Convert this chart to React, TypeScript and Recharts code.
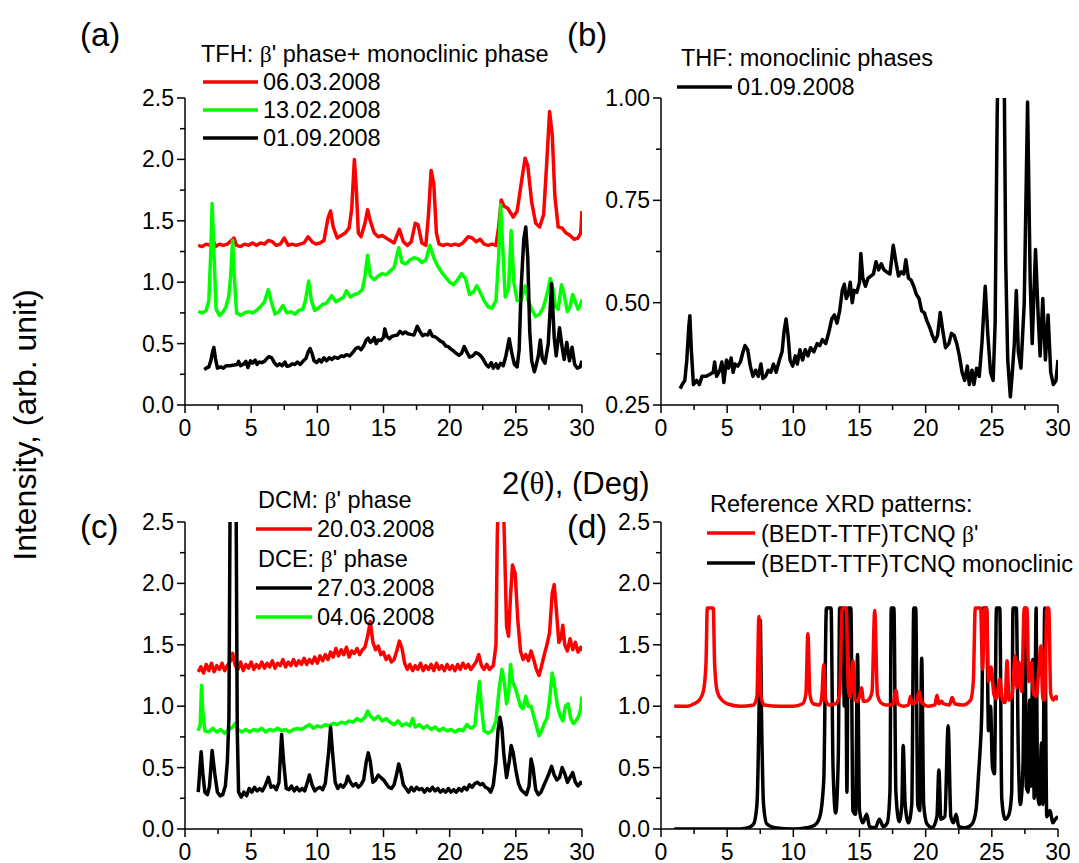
import React from "react";
import { Line, LineChart, XAxis, YAxis } from "recharts";

const FONT = "'Liberation Sans', Arial, sans-serif";
const SERIF = "'Liberation Serif', 'DejaVu Serif', serif";

type Pt = [number, number];

// (a) TFH samples, (b) the same 01.09.2008 pattern on its own scale
const tfhMar06: Pt[] = [
  [1.0, 1.30], [1.3, 1.29], [1.6, 1.31], [1.9, 1.30], [2.1, 1.35], [2.3, 1.29], [2.6, 1.31], [2.9, 1.30],
  [3.2, 1.31], [3.5, 1.34], [3.7, 1.36], [3.9, 1.30], [4.2, 1.29], [4.5, 1.31], [4.8, 1.30], [5.1, 1.32],
  [5.4, 1.30], [5.7, 1.32], [6.0, 1.31], [6.3, 1.34], [6.6, 1.33], [6.9, 1.30], [7.2, 1.31], [7.5, 1.36],
  [7.8, 1.30], [8.1, 1.31], [8.4, 1.30], [8.7, 1.31], [9.0, 1.32], [9.3, 1.37], [9.6, 1.33], [9.9, 1.31],
  [10.2, 1.32], [10.5, 1.34], [10.8, 1.52], [11.0, 1.58], [11.2, 1.45], [11.5, 1.36], [11.8, 1.38], [12.1, 1.40],
  [12.4, 1.44], [12.6, 1.60], [12.8, 2.0], [12.95, 1.75], [13.1, 1.40], [13.3, 1.37], [13.6, 1.48], [13.8, 1.59],
  [14.0, 1.50], [14.3, 1.40], [14.6, 1.37], [14.9, 1.38], [15.2, 1.36], [15.5, 1.34], [15.8, 1.32], [16.2, 1.43],
  [16.5, 1.33], [16.8, 1.30], [17.1, 1.33], [17.4, 1.48], [17.6, 1.47], [17.9, 1.32], [18.2, 1.30], [18.4, 1.55],
  [18.6, 1.91], [18.8, 1.80], [19.0, 1.40], [19.2, 1.31], [19.5, 1.30], [19.8, 1.31], [20.1, 1.30], [20.4, 1.31],
  [20.7, 1.30], [21.0, 1.32], [21.4, 1.37], [21.7, 1.36], [22.0, 1.33], [22.3, 1.35], [22.6, 1.31], [22.9, 1.30],
  [23.2, 1.31], [23.5, 1.30], [23.7, 1.45], [23.9, 1.67], [24.1, 1.62], [24.4, 1.60], [24.8, 1.53], [25.1, 1.58],
  [25.4, 1.80], [25.7, 2.01], [25.9, 1.95], [26.2, 1.65], [26.5, 1.48], [26.8, 1.45], [27.1, 1.55], [27.35, 2.0],
  [27.55, 2.39], [27.75, 2.2], [27.95, 1.7], [28.2, 1.45], [28.5, 1.44], [28.8, 1.40], [29.1, 1.38], [29.4, 1.35],
  [29.7, 1.36], [29.9, 1.40], [30.0, 1.58],
];

const tfhFeb13: Pt[] = [
  [1.0, 0.76], [1.3, 0.75], [1.6, 0.77], [1.8, 0.85], [1.95, 1.25], [2.05, 1.64], [2.2, 1.2], [2.35, 0.78],
  [2.6, 0.73], [2.9, 0.76], [3.1, 0.80], [3.3, 0.88], [3.45, 1.05], [3.6, 1.34], [3.75, 1.0], [3.9, 0.75],
  [4.2, 0.73], [4.5, 0.75], [4.8, 0.76], [5.1, 0.75], [5.4, 0.77], [5.7, 0.80], [6.0, 0.84], [6.3, 0.94],
  [6.5, 0.85], [6.8, 0.74], [7.1, 0.76], [7.4, 0.81], [7.7, 0.75], [8.0, 0.76], [8.3, 0.74], [8.6, 0.77],
  [8.9, 0.78], [9.1, 0.85], [9.35, 1.01], [9.55, 0.85], [9.8, 0.77], [10.1, 0.79], [10.4, 0.82], [10.7, 0.83],
  [11.1, 0.89], [11.4, 0.84], [11.7, 0.86], [12.0, 0.88], [12.2, 0.93], [12.5, 0.88], [12.8, 0.90], [13.1, 0.91],
  [13.4, 0.94], [13.6, 1.05], [13.8, 1.22], [14.0, 1.05], [14.3, 1.02], [14.6, 1.05], [14.9, 1.07], [15.2, 1.06],
  [15.5, 1.09], [15.8, 1.12], [16.15, 1.28], [16.4, 1.16], [16.7, 1.15], [17.0, 1.18], [17.3, 1.20], [17.6, 1.19],
  [17.9, 1.16], [18.2, 1.18], [18.5, 1.30], [18.8, 1.20], [19.1, 1.13], [19.4, 1.08], [19.7, 1.04], [20.0, 1.00],
  [20.3, 0.98], [20.6, 1.02], [20.9, 1.07], [21.2, 1.03], [21.5, 0.90], [21.8, 0.92], [22.05, 0.97], [22.3, 0.92],
  [22.6, 0.85], [22.9, 0.80], [23.2, 0.79], [23.5, 0.85], [23.7, 1.2], [23.85, 1.63], [24.0, 1.3], [24.2, 0.88],
  [24.45, 0.95], [24.65, 1.42], [24.85, 1.0], [25.1, 0.85], [25.4, 0.85], [25.7, 0.97], [25.95, 0.85], [26.2, 0.78],
  [26.5, 0.72], [26.8, 0.74], [27.1, 0.80], [27.4, 0.92], [27.6, 1.03], [27.8, 0.95], [28.0, 0.80], [28.2, 0.78],
  [28.45, 0.98], [28.65, 0.90], [28.9, 0.76], [29.1, 0.80], [29.3, 0.90], [29.5, 0.84], [29.7, 0.78], [29.9, 0.82],
  [30.0, 0.86],
];

const thfSep01: Pt[] = [
  [1.45, 0.29], [1.6, 0.30], [1.8, 0.31], [1.95, 0.36], [2.1, 0.44], [2.18, 0.468], [2.3, 0.38], [2.45, 0.30],
  [2.7, 0.31], [2.9, 0.30], [3.1, 0.32], [3.4, 0.32], [3.7, 0.325], [3.95, 0.33], [4.05, 0.355], [4.2, 0.32],
  [4.45, 0.335], [4.6, 0.355], [4.75, 0.305], [4.95, 0.36], [5.1, 0.34], [5.3, 0.365], [5.45, 0.33], [5.6, 0.35],
  [5.8, 0.345], [6.0, 0.355], [6.2, 0.38], [6.35, 0.395], [6.55, 0.385], [6.75, 0.345], [6.95, 0.32], [7.15, 0.335],
  [7.35, 0.32], [7.55, 0.35], [7.7, 0.315], [7.9, 0.32], [8.1, 0.335], [8.3, 0.33], [8.5, 0.35], [8.7, 0.33],
  [8.95, 0.36], [9.15, 0.38], [9.3, 0.43], [9.45, 0.46], [9.6, 0.42], [9.75, 0.36], [9.95, 0.345], [10.15, 0.37],
  [10.3, 0.35], [10.5, 0.385], [10.7, 0.36], [10.9, 0.385], [11.1, 0.37], [11.3, 0.39], [11.55, 0.38], [11.8, 0.40],
  [12.0, 0.395], [12.2, 0.41], [12.45, 0.40], [12.7, 0.43], [12.9, 0.46], [13.1, 0.47], [13.3, 0.45], [13.5, 0.48],
  [13.7, 0.53], [13.85, 0.545], [14.0, 0.51], [14.15, 0.52], [14.3, 0.55], [14.45, 0.50], [14.6, 0.53], [14.8, 0.525],
  [15.0, 0.55], [15.1, 0.62], [15.25, 0.56], [15.45, 0.54], [15.65, 0.56], [15.85, 0.565], [16.05, 0.57], [16.25, 0.60],
  [16.45, 0.58], [16.65, 0.595], [16.85, 0.58], [17.05, 0.575], [17.3, 0.57], [17.55, 0.64], [17.75, 0.60], [17.95, 0.565],
  [18.15, 0.575], [18.35, 0.57], [18.5, 0.605], [18.7, 0.56], [18.9, 0.555], [19.1, 0.54], [19.3, 0.52], [19.5, 0.51],
  [19.7, 0.48], [19.9, 0.475], [20.1, 0.455], [20.3, 0.44], [20.5, 0.42], [20.7, 0.405], [20.9, 0.42], [21.1, 0.476],
  [21.3, 0.43], [21.5, 0.39], [21.75, 0.40], [21.95, 0.425], [22.15, 0.42], [22.35, 0.40], [22.55, 0.37], [22.75, 0.33],
  [22.95, 0.31], [23.15, 0.345], [23.3, 0.30], [23.5, 0.335], [23.65, 0.30], [23.85, 0.34], [24.05, 0.32], [24.25, 0.40],
  [24.5, 0.54], [24.7, 0.42], [24.9, 0.33], [25.1, 0.31], [25.25, 0.45], [25.4, 0.95], [25.6, 1.35], [25.75, 1.45],
  [25.9, 1.2], [26.05, 0.6], [26.2, 0.36], [26.4, 0.27], [26.55, 0.33], [26.7, 0.40], [26.85, 0.53], [27.0, 0.38],
  [27.2, 0.34], [27.45, 0.50], [27.7, 0.99], [27.9, 0.55], [28.05, 0.40], [28.3, 0.63], [28.5, 0.47], [28.65, 0.37],
  [28.85, 0.51], [29.05, 0.36], [29.25, 0.47], [29.45, 0.33], [29.65, 0.30], [29.85, 0.31], [30.0, 0.36],
];

// (c) DCM and DCE samples
const dcmMar20: Pt[] = [
  [1.0, 1.28], [1.2, 1.32], [1.4, 1.27], [1.6, 1.34], [1.8, 1.29], [2.0, 1.35], [2.2, 1.28], [2.4, 1.33],
  [2.6, 1.30], [2.8, 1.35], [3.0, 1.29], [3.2, 1.33], [3.45, 1.37], [3.6, 1.43], [3.8, 1.33], [4.0, 1.30],
  [4.2, 1.36], [4.4, 1.29], [4.6, 1.34], [4.8, 1.31], [5.0, 1.36], [5.2, 1.30], [5.4, 1.34], [5.6, 1.31],
  [5.8, 1.36], [6.0, 1.31], [6.2, 1.35], [6.4, 1.32], [6.6, 1.37], [6.8, 1.31], [7.0, 1.35], [7.2, 1.33],
  [7.4, 1.38], [7.6, 1.32], [7.8, 1.36], [8.0, 1.33], [8.2, 1.38], [8.4, 1.33], [8.6, 1.37], [8.8, 1.34],
  [9.0, 1.39], [9.2, 1.34], [9.4, 1.38], [9.6, 1.35], [9.8, 1.40], [10.0, 1.35], [10.2, 1.41], [10.4, 1.37],
  [10.6, 1.42], [10.8, 1.38], [11.0, 1.44], [11.2, 1.40], [11.4, 1.47], [11.6, 1.41], [11.8, 1.46], [12.0, 1.42],
  [12.2, 1.48], [12.4, 1.40], [12.6, 1.45], [12.8, 1.43], [13.0, 1.47], [13.2, 1.42], [13.4, 1.46], [13.6, 1.48],
  [13.8, 1.57], [14.0, 1.69], [14.2, 1.52], [14.4, 1.46], [14.6, 1.49], [14.8, 1.42], [15.0, 1.44], [15.2, 1.38],
  [15.4, 1.41], [15.6, 1.36], [15.8, 1.38], [16.0, 1.45], [16.2, 1.53], [16.4, 1.47], [16.6, 1.35], [16.8, 1.30],
  [17.0, 1.34], [17.2, 1.29], [17.4, 1.33], [17.6, 1.30], [17.8, 1.35], [18.0, 1.29], [18.2, 1.33], [18.4, 1.30],
  [18.6, 1.34], [18.8, 1.29], [19.0, 1.35], [19.2, 1.30], [19.4, 1.33], [19.6, 1.29], [19.8, 1.34], [20.0, 1.30],
  [20.2, 1.33], [20.4, 1.29], [20.6, 1.34], [20.8, 1.30], [21.0, 1.35], [21.2, 1.31], [21.4, 1.34], [21.6, 1.30],
  [21.8, 1.33], [22.0, 1.36], [22.2, 1.42], [22.4, 1.33], [22.6, 1.30], [22.8, 1.34], [23.0, 1.30], [23.3, 1.33],
  [23.5, 1.50], [23.6, 2.4], [23.75, 2.9], [24.0, 2.9], [24.15, 2.3], [24.3, 1.65], [24.45, 1.57], [24.6, 1.9],
  [24.75, 2.15], [24.95, 2.08], [25.15, 1.70], [25.35, 1.45], [25.55, 1.38], [25.75, 1.42], [25.95, 1.37], [26.15, 1.45],
  [26.35, 1.38], [26.55, 1.30], [26.75, 1.25], [26.95, 1.33], [27.15, 1.42], [27.35, 1.50], [27.55, 1.60], [27.75, 1.92],
  [27.9, 1.99], [28.05, 1.80], [28.25, 1.52], [28.4, 1.55], [28.55, 1.66], [28.7, 1.50], [28.9, 1.45], [29.1, 1.55],
  [29.3, 1.46], [29.5, 1.52], [29.7, 1.44], [29.9, 1.48], [30.0, 1.45],
];

const dceJun04: Pt[] = [
  [1.0, 0.80], [1.15, 0.85], [1.25, 1.17], [1.35, 0.95], [1.5, 0.80], [1.8, 0.79], [2.1, 0.82], [2.4, 0.79],
  [2.7, 0.81], [3.0, 0.78], [3.3, 0.81], [3.6, 0.83], [3.8, 0.86], [4.0, 0.81], [4.3, 0.79], [4.6, 0.81],
  [4.9, 0.79], [5.2, 0.81], [5.5, 0.80], [5.8, 0.82], [6.1, 0.79], [6.4, 0.81], [6.7, 0.80], [7.0, 0.82],
  [7.3, 0.80], [7.6, 0.81], [7.9, 0.79], [8.2, 0.81], [8.5, 0.82], [8.8, 0.81], [9.1, 0.83], [9.4, 0.85],
  [9.7, 0.82], [10.0, 0.84], [10.3, 0.83], [10.6, 0.85], [10.9, 0.84], [11.2, 0.86], [11.5, 0.85], [11.8, 0.87],
  [12.1, 0.86], [12.4, 0.88], [12.7, 0.87], [13.0, 0.90], [13.3, 0.88], [13.6, 0.91], [13.8, 0.96], [14.0, 0.92],
  [14.3, 0.89], [14.6, 0.92], [14.9, 0.88], [15.2, 0.90], [15.5, 0.87], [15.8, 0.85], [16.1, 0.88], [16.4, 0.84],
  [16.7, 0.86], [17.0, 0.84], [17.2, 0.90], [17.4, 0.83], [17.7, 0.85], [18.0, 0.82], [18.3, 0.84], [18.6, 0.81],
  [18.9, 0.83], [19.2, 0.80], [19.5, 0.82], [19.8, 0.80], [20.1, 0.81], [20.4, 0.79], [20.7, 0.81], [21.0, 0.80],
  [21.3, 0.85], [21.6, 0.82], [21.9, 0.84], [22.1, 1.05], [22.25, 1.20], [22.4, 1.0], [22.6, 0.80], [22.9, 0.78],
  [23.2, 0.80], [23.5, 0.88], [23.75, 1.15], [23.95, 1.30], [24.15, 1.18], [24.3, 1.02], [24.45, 1.10], [24.6, 1.34],
  [24.75, 1.20], [24.95, 1.15], [25.15, 1.08], [25.35, 1.00], [25.55, 0.98], [25.75, 1.08], [25.95, 1.00], [26.15, 1.00],
  [26.35, 0.92], [26.55, 0.84], [26.75, 0.76], [26.95, 0.80], [27.15, 0.86], [27.35, 0.90], [27.55, 1.05], [27.75, 1.27],
  [27.95, 1.15], [28.15, 1.00], [28.35, 0.92], [28.55, 0.88], [28.75, 1.00], [28.95, 1.02], [29.15, 0.90], [29.35, 0.86],
  [29.55, 0.88], [29.75, 0.92], [29.9, 0.98], [30.0, 1.08],
];

const dceMar27: Pt[] = [
  [1.0, 0.30], [1.1, 0.45], [1.22, 0.63], [1.35, 0.45], [1.5, 0.30], [1.7, 0.28], [1.85, 0.35], [2.05, 0.64],
  [2.25, 0.45], [2.45, 0.30], [2.65, 0.27], [2.85, 0.28], [3.05, 0.35], [3.2, 0.55], [3.32, 0.9], [3.42, 2.9],
  [3.6, 3.4], [3.85, 2.9], [3.95, 0.8], [4.05, 0.30], [4.25, 0.26], [4.45, 0.30], [4.65, 0.27], [4.85, 0.33],
  [5.05, 0.30], [5.25, 0.34], [5.45, 0.31], [5.65, 0.33], [5.85, 0.31], [6.05, 0.35], [6.3, 0.42], [6.5, 0.34],
  [6.7, 0.35], [6.9, 0.32], [7.1, 0.38], [7.3, 0.77], [7.45, 0.55], [7.65, 0.33], [7.85, 0.32], [8.05, 0.35],
  [8.25, 0.31], [8.45, 0.34], [8.65, 0.31], [8.85, 0.33], [9.05, 0.31], [9.25, 0.38], [9.4, 0.44], [9.6, 0.36],
  [9.8, 0.31], [10.0, 0.33], [10.2, 0.34], [10.4, 0.32], [10.6, 0.37], [10.85, 0.62], [11.0, 0.83], [11.15, 0.62],
  [11.35, 0.38], [11.55, 0.33], [11.75, 0.36], [11.95, 0.34], [12.15, 0.37], [12.3, 0.43], [12.5, 0.38], [12.7, 0.35],
  [12.9, 0.37], [13.1, 0.34], [13.3, 0.36], [13.5, 0.40], [13.7, 0.55], [13.85, 0.62], [14.0, 0.55], [14.2, 0.38],
  [14.4, 0.40], [14.6, 0.44], [14.8, 0.42], [15.0, 0.40], [15.2, 0.37], [15.4, 0.34], [15.6, 0.33], [15.8, 0.36],
  [16.0, 0.45], [16.15, 0.53], [16.3, 0.47], [16.5, 0.36], [16.7, 0.33], [16.9, 0.30], [17.1, 0.34], [17.3, 0.31],
  [17.5, 0.34], [17.7, 0.32], [17.9, 0.33], [18.1, 0.30], [18.3, 0.33], [18.5, 0.31], [18.7, 0.34], [18.9, 0.31],
  [19.1, 0.33], [19.3, 0.30], [19.5, 0.32], [19.7, 0.30], [19.9, 0.33], [20.1, 0.30], [20.3, 0.32], [20.5, 0.30],
  [20.7, 0.33], [20.9, 0.31], [21.1, 0.34], [21.3, 0.32], [21.5, 0.36], [21.7, 0.34], [21.9, 0.37], [22.1, 0.38],
  [22.3, 0.36], [22.5, 0.37], [22.7, 0.34], [22.9, 0.33], [23.1, 0.30], [23.3, 0.36], [23.5, 0.55], [23.65, 0.80],
  [23.8, 0.91], [23.95, 0.82], [24.1, 0.60], [24.3, 0.42], [24.5, 0.55], [24.65, 0.68], [24.8, 0.62], [25.0, 0.48],
  [25.2, 0.37], [25.4, 0.32], [25.6, 0.30], [25.8, 0.28], [26.0, 0.35], [26.15, 0.57], [26.3, 0.50], [26.5, 0.32],
  [26.7, 0.28], [26.9, 0.30], [27.1, 0.35], [27.3, 0.40], [27.5, 0.45], [27.7, 0.51], [27.9, 0.44], [28.1, 0.40],
  [28.3, 0.42], [28.5, 0.50], [28.7, 0.45], [28.9, 0.38], [29.1, 0.42], [29.3, 0.46], [29.5, 0.38], [29.7, 0.35],
  [29.9, 0.38], [30.0, 0.36],
];

// (d) reference patterns, capped at 1.8 as in the source data
const refBeta: Pt[] = [
  [1.0, 1.0], [2.0, 1.0], [2.5, 1.02], [2.9, 1.05], [3.2, 1.12], [3.4, 1.35], [3.5, 1.8], [3.95, 1.8],
  [4.05, 1.35], [4.25, 1.12], [4.6, 1.05], [5.0, 1.02], [6.0, 1.0], [7.0, 1.01], [7.25, 1.08], [7.4, 1.73],
  [7.55, 1.08], [7.8, 1.01], [9.0, 1.0], [10.0, 1.0], [10.7, 1.02], [10.95, 1.1], [11.1, 1.59], [11.25, 1.1],
  [11.5, 1.02], [12.0, 1.01], [12.15, 1.08], [12.3, 1.34], [12.45, 1.05], [12.7, 1.01], [13.2, 1.02], [13.5, 1.1],
  [13.7, 1.8], [14.0, 1.8], [14.15, 1.15], [14.3, 1.07], [14.5, 1.37], [14.65, 1.05], [14.85, 1.04], [15.0, 1.08],
  [15.15, 1.15], [15.3, 1.04], [15.5, 1.04], [15.75, 1.06], [15.95, 1.12], [16.15, 1.78], [16.35, 1.1], [16.6, 1.03],
  [17.0, 1.01], [17.5, 1.01], [17.6, 1.05], [17.75, 1.13], [17.9, 1.02], [18.3, 1.0], [18.7, 1.01], [18.85, 1.08],
  [19.0, 1.02], [19.3, 1.03], [19.5, 1.12], [19.7, 1.03], [20.2, 1.0], [20.7, 1.01], [20.85, 1.09], [21.0, 1.02],
  [21.2, 1.04], [21.35, 1.02], [21.8, 1.01], [22.0, 1.07], [22.2, 1.02], [22.8, 1.01], [23.4, 1.05], [23.6, 1.2],
  [23.75, 1.8], [24.15, 1.8], [24.3, 1.3], [24.45, 1.8], [24.6, 1.8], [24.75, 1.2], [24.95, 1.32], [25.15, 1.1],
  [25.35, 1.06], [25.6, 1.22], [25.8, 1.05], [26.0, 1.03], [26.15, 1.37], [26.3, 1.05], [26.55, 1.1], [26.75, 1.41],
  [26.9, 1.15], [27.05, 1.36], [27.25, 1.12], [27.45, 1.8], [27.65, 1.8], [27.8, 1.2], [28.0, 1.36], [28.15, 1.1],
  [28.35, 1.08], [28.55, 1.3], [28.7, 1.49], [28.85, 1.06], [29.0, 1.05], [29.15, 1.8], [29.3, 1.8], [29.45, 1.1],
  [29.65, 1.05], [29.85, 1.08], [30.0, 1.05],
];

const refMono: Pt[] = [
  [1.0, 0.0], [6.0, 0.0], [6.6, 0.01], [7.0, 0.04], [7.25, 0.2], [7.4, 0.9], [7.5, 1.7], [7.6, 0.9],
  [7.75, 0.2], [8.0, 0.04], [8.6, 0.01], [10.0, 0.0], [11.0, 0.01], [11.6, 0.03], [12.0, 0.1], [12.3, 0.4],
  [12.5, 1.8], [12.85, 1.8], [13.0, 0.5], [13.2, 0.13], [13.4, 0.6], [13.5, 1.8], [13.75, 1.8], [13.85, 1.0],
  [13.95, 1.8], [14.05, 0.3], [14.15, 1.8], [14.35, 1.8], [14.5, 0.15], [14.7, 0.12], [14.85, 1.42], [15.0, 0.15],
  [15.25, 0.05], [15.55, 0.12], [15.75, 0.02], [16.2, 0.01], [16.5, 0.08], [16.8, 0.02], [17.1, 0.05], [17.3, 0.3],
  [17.4, 1.8], [17.6, 1.8], [17.75, 0.3], [18.0, 0.06], [18.2, 0.2], [18.3, 0.68], [18.45, 0.2], [18.7, 0.05],
  [18.95, 0.2], [19.1, 1.8], [19.25, 1.8], [19.4, 0.2], [19.55, 0.15], [19.7, 1.39], [19.85, 0.2], [20.1, 0.04],
  [20.5, 0.01], [20.85, 0.1], [21.0, 0.48], [21.15, 0.08], [21.45, 0.1], [21.7, 0.84], [21.9, 0.1], [22.1, 0.05],
  [22.3, 0.12], [22.5, 0.02], [23.0, 0.01], [23.5, 0.04], [23.8, 0.15], [24.0, 0.45], [24.1, 0.62], [24.25, 1.0],
  [24.35, 1.8], [24.6, 1.8], [24.75, 0.8], [24.9, 1.0], [25.05, 0.5], [25.2, 0.45], [25.35, 1.8], [25.6, 1.8],
  [25.75, 0.25], [26.0, 0.08], [26.3, 0.12], [26.5, 0.3], [26.6, 1.8], [26.85, 1.8], [27.0, 0.63], [27.15, 0.2],
  [27.35, 0.5], [27.5, 1.8], [27.6, 0.35], [27.75, 0.3], [27.85, 1.05], [27.95, 0.35], [28.1, 1.38], [28.2, 0.25],
  [28.35, 1.8], [28.45, 0.3], [28.6, 0.2], [28.75, 0.7], [28.85, 0.2], [29.0, 1.8], [29.15, 0.1], [29.4, 0.15],
  [29.6, 0.05], [29.8, 0.08], [30.0, 0.1],
];

const xTicks = [0, 2.5, 5, 7.5, 10, 12.5, 15, 17.5, 20, 22.5, 25, 27.5, 30];
const yTicksWide = [0, 0.25, 0.5, 0.75, 1, 1.25, 1.5, 1.75, 2, 2.25, 2.5];
const yTicksNarrow = [0.25, 0.375, 0.5, 0.625, 0.75, 0.875, 1];

const RED = "#ff0000";
const GREEN = "#00ff00";
const BLACK = "#000000";

// chart box: y-axis strip, plot, x-axis strip
const YW = 85;
const MT = 18;
const MR = 12;
const PW = 397;
const PH = 307;
const XH = 50;

const rows = (pts: Pt[]) => pts.map(([x, y]) => ({ x, y }));

const isMultiple = (v: number, step: number) => Math.abs(v / step - Math.round(v / step)) < 1e-6;

function XTick(props: any) {
  const { x, y, payload } = props;
  const major = isMultiple(payload.value, 5);
  return (
    <g>
      <line x1={x} y1={y} x2={x} y2={y + (major ? 8 : 5)} stroke="#000" strokeWidth={1.5} />
      {major && (
        <text x={x} y={y + 31} textAnchor="middle" fontSize={23} fontFamily={FONT} fill="#000">
          {payload.value}
        </text>
      )}
    </g>
  );
}

function makeYTick(step: number, digits: number) {
  return function YTick(props: any) {
    const { x, y, payload } = props;
    const major = isMultiple(payload.value, step);
    return (
      <g>
        <line x1={x - (major ? 8 : 5)} y1={y} x2={x} y2={y} stroke="#000" strokeWidth={1.5} />
        {major && (
          <text x={x - 11} y={y + 8} textAnchor="end" fontSize={23} fontFamily={FONT} fill="#000">
            {payload.value.toFixed(digits)}
          </text>
        )}
      </g>
    );
  };
}

const tickWide = makeYTick(0.5, 1);
const tickNarrow = makeYTick(0.25, 2);

type Series = { name: string; points: Pt[]; color: string; curve?: "linear" | "monotoneX" };

function Panel({
  left,
  top,
  domain,
  ticks,
  tick,
  series,
}: {
  left: number;
  top: number;
  domain: [number, number];
  ticks: number[];
  tick: (p: any) => React.ReactElement;
  series: Series[];
}) {
  return (
    <div style={{ position: "absolute", left: left - YW, top: top - MT }}>
      <LineChart width={YW + PW + MR} height={MT + PH + XH} margin={{ top: MT, right: MR, bottom: 0, left: 0 }}>
        <XAxis
          type="number"
          dataKey="x"
          domain={[0, 30]}
          ticks={xTicks}
          interval={0}
          allowDataOverflow
          height={XH}
          tickSize={0}
          tickMargin={0}
          tickLine={false}
          tick={XTick}
          axisLine={{ stroke: "#000", strokeWidth: 1.5 }}
        />
        <YAxis
          type="number"
          dataKey="y"
          domain={domain}
          ticks={ticks}
          interval={0}
          allowDataOverflow
          width={YW}
          tickSize={0}
          tickMargin={0}
          tickLine={false}
          tick={tick}
          axisLine={{ stroke: "#000", strokeWidth: 1.5 }}
        />
        {series.map((s) => (
          <Line
            key={s.name}
            data={rows(s.points)}
            dataKey="y"
            type={s.curve ?? "linear"}
            stroke={s.color}
            strokeWidth={3.5}
            strokeLinejoin="round"
            dot={false}
            activeDot={false}
            isAnimationActive={false}
          />
        ))}
      </LineChart>
    </div>
  );
}

function Beta() {
  return <tspan fontFamily={SERIF}>β</tspan>;
}

function Swatch({ x1, x2, y, color }: { x1: number; x2: number; y: number; color: string }) {
  return <line x1={x1} x2={x2} y1={y} y2={y} stroke={color} strokeWidth={3.5} />;
}

function Labels() {
  const t = { fontFamily: FONT, fontSize: 23.5, fill: "#000" };
  return (
    <svg width={1079} height={863} style={{ position: "absolute", left: 0, top: 0, pointerEvents: "none" }}>
      {/* panel letters */}
      <text x={80} y={46} fontFamily={FONT} fontSize={33}>(a)</text>
      <text x={567} y={46} fontFamily={FONT} fontSize={33}>(b)</text>
      <text x={80} y={538} fontFamily={FONT} fontSize={33}>(c)</text>
      <text x={567} y={538} fontFamily={FONT} fontSize={33}>(d)</text>

      {/* shared axis titles */}
      <text x={502} y={494} fontFamily={FONT} fontSize={31}>
        2(<tspan fontFamily={SERIF}>θ</tspan>), (Deg)
      </text>
      <text
        x={36}
        y={425}
        transform="rotate(-90 36 425)"
        textAnchor="middle"
        fontFamily={FONT}
        fontSize={32}
      >
        Intensity, (arb. unit)
      </text>

      {/* (a) legend */}
      <text x={201} y={62} {...t}>TFH: <Beta />' phase+ monoclinic phase</text>
      <Swatch x1={203} x2={258} y={82} color={RED} />
      <text x={263} y={90} {...t}>06.03.2008</text>
      <Swatch x1={203} x2={258} y={110} color={GREEN} />
      <text x={263} y={118} {...t}>13.02.2008</text>
      <Swatch x1={203} x2={258} y={138} color={BLACK} />
      <text x={263} y={146} {...t}>01.09.2008</text>

      {/* (b) legend */}
      <text x={681} y={66} {...t}>THF: monoclinic phases</text>
      <Swatch x1={677} x2={732} y={87} color={BLACK} />
      <text x={737} y={95} {...t}>01.09.2008</text>

      {/* (c) legend */}
      <text x={258} y={508} {...t}>DCM: <Beta />' phase</text>
      <Swatch x1={256} x2={312} y={529} color={RED} />
      <text x={317} y={537} {...t}>20.03.2008</text>
      <text x={258} y={567} {...t}>DCE: <Beta />' phase</text>
      <Swatch x1={256} x2={312} y={588} color={BLACK} />
      <text x={317} y={596} {...t}>27.03.2008</text>
      <Swatch x1={256} x2={312} y={617} color={GREEN} />
      <text x={317} y={625} {...t}>04.06.2008</text>

      {/* (d) legend */}
      <text x={710} y={512} {...t}>Reference XRD patterns:</text>
      <Swatch x1={707} x2={755} y={533} color={RED} />
      <text x={761} y={542} {...t}>(BEDT-TTF)TCNQ <Beta />'</text>
      <Swatch x1={707} x2={755} y={563} color={BLACK} />
      <text x={761} y={572} {...t}>(BEDT-TTF)TCNQ monoclinic</text>
    </svg>
  );
}

export default function App() {
  return (
    <div style={{ position: "absolute", left: 0, top: 0, width: 1079, height: 863, background: "#fff" }}>
      <Panel
        left={185}
        top={98}
        domain={[0, 2.5]}
        ticks={yTicksWide}
        tick={tickWide}
        series={[
          { name: "06.03.2008", points: tfhMar06, color: RED },
          { name: "13.02.2008", points: tfhFeb13, color: GREEN },
          { name: "01.09.2008", points: thfSep01, color: BLACK },
        ]}
      />
      <Panel
        left={661}
        top={98}
        domain={[0.25, 1]}
        ticks={yTicksNarrow}
        tick={tickNarrow}
        series={[{ name: "01.09.2008", points: thfSep01, color: BLACK }]}
      />
      <Panel
        left={185}
        top={522}
        domain={[0, 2.5]}
        ticks={yTicksWide}
        tick={tickWide}
        series={[
          { name: "20.03.2008", points: dcmMar20, color: RED },
          { name: "04.06.2008", points: dceJun04, color: GREEN },
          { name: "27.03.2008", points: dceMar27, color: BLACK },
        ]}
      />
      <Panel
        left={661}
        top={522}
        domain={[0, 2.5]}
        ticks={yTicksWide}
        tick={tickWide}
        series={[
          { name: "monoclinic", points: refMono, color: BLACK, curve: "monotoneX" },
          { name: "beta", points: refBeta, color: RED, curve: "monotoneX" },
        ]}
      />
      <Labels />
    </div>
  );
}
